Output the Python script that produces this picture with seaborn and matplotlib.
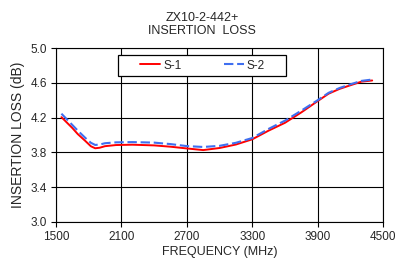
import numpy as np
import pandas as pd
import matplotlib
matplotlib.use('Agg')
import matplotlib.pyplot as plt
from matplotlib.patches import Rectangle
import seaborn as sns

# data
freq_mhz = [1550, 1650, 1700, 1770, 1820, 1860, 1900, 1950, 2050, 2200, 2400, 2550, 2700,
            2850, 3000, 3150, 3300, 3450, 3600, 3750, 3900, 4000, 4100, 4200, 4300, 4400]
loss_s1 = [4.205, 4.08, 4.01, 3.93, 3.87, 3.847, 3.853, 3.871, 3.884, 3.888, 3.88, 3.865, 3.845,
           3.826, 3.85, 3.89, 3.95, 4.05, 4.14, 4.26, 4.39, 4.475, 4.53, 4.572, 4.613, 4.627]
loss_s2 = [4.245, 4.115, 4.05, 3.965, 3.91, 3.885, 3.89, 3.905, 3.915, 3.918, 3.912, 3.895, 3.872,
           3.862, 3.875, 3.91, 3.965, 4.07, 4.165, 4.28, 4.40, 4.485, 4.54, 4.583, 4.622, 4.638]
x_ticks = [1500, 2100, 2700, 3300, 3900, 4500]
y_ticks = [3.0, 3.4, 3.8, 4.2, 4.6, 5.0]

sns.set_style('white')
plt.rcParams['font.family'] = ['Liberation Sans', 'DejaVu Sans']

fig = plt.figure(figsize=(3.97, 2.67), dpi=100)
ax = fig.add_axes([0.141, 0.169, 0.824, 0.651])

sns.lineplot(x=freq_mhz, y=loss_s1, ax=ax, color='#ff0000', linewidth=1.4, label='S-1')
sns.lineplot(x=freq_mhz, y=loss_s2, ax=ax, color='#3f6ff0', linewidth=1.5,
             linestyle=(0, (4.5, 1.8)), label='S-2')

ax.set_xlim(1500, 4500)
ax.set_ylim(3.0, 5.0)
ax.set_xticks(x_ticks)
ax.set_yticks(y_ticks)
ax.set_yticklabels([f'{v:.1f}' for v in y_ticks])
ax.grid(True, color='black', linewidth=0.8)
ax.set_axisbelow(True)
for s in ax.spines.values():
    s.set_color('black')
    s.set_linewidth(0.8)
ax.tick_params(axis='both', labelsize=8.5, length=3.5, width=0.8, color='black', direction='out',
               bottom=True, left=True, pad=3)

ax.set_xlabel('FREQUENCY (MHz)', fontsize=9, labelpad=2)
ax.set_ylabel('INSERTION LOSS (dB)', fontsize=10, labelpad=4)
fig.text(202 / 397, 0.908, 'ZX10-2-442+\nINSERTION  LOSS', fontsize=9,
         ha='center', va='center', linespacing=1.2)

# legend box like the original (frame drawn separately, entries spread inside)
ax.add_patch(Rectangle((0.190, 0.839), 0.513, 0.121, transform=ax.transAxes,
                       facecolor='white', edgecolor='black', linewidth=0.9, zorder=4))
leg = ax.legend(loc='center', bbox_to_anchor=(0.448, 0.899), ncol=2, fontsize=8.5,
                handlelength=1.7, handletextpad=0.25, columnspacing=3.6, frameon=False,
                borderpad=0)
leg.set_zorder(5)

fig.savefig('out.png', dpi=100)
